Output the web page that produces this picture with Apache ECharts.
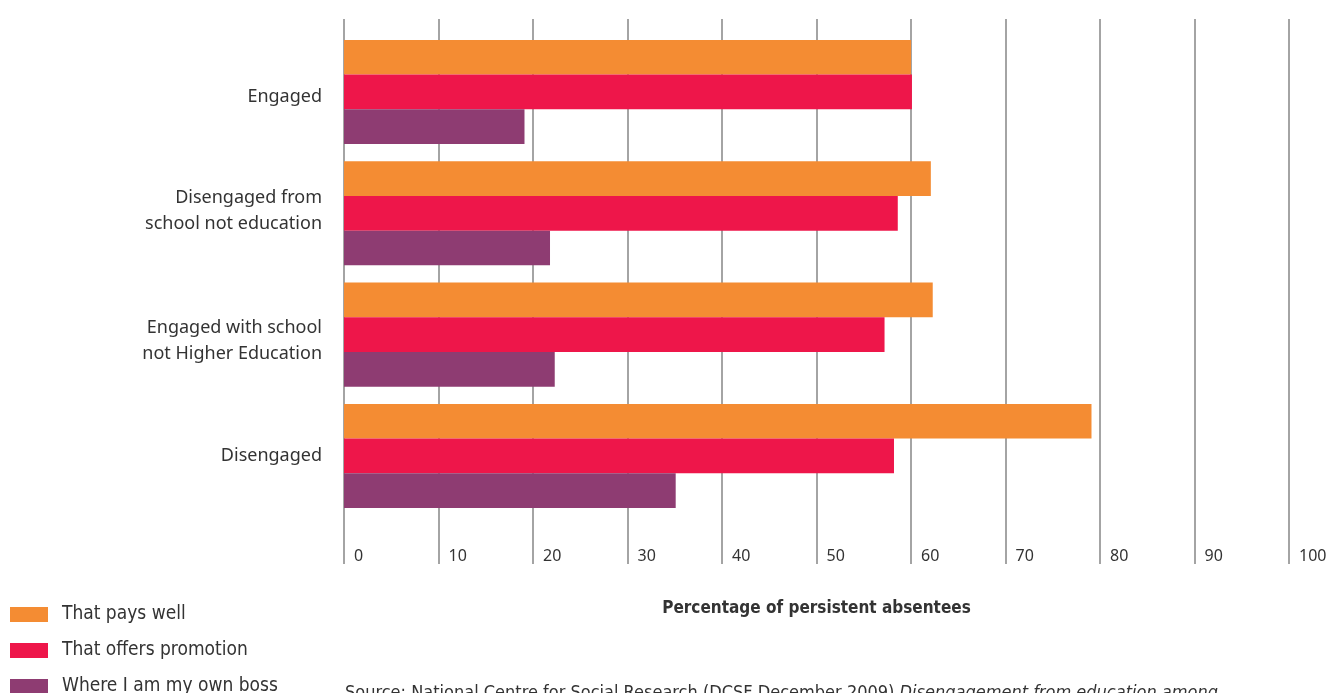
<!DOCTYPE html>
<html>
<head>
<meta charset="utf-8">
<script src="https://cdn.jsdelivr.net/npm/echarts@6/dist/echarts.min.js"></script>
<style>
  html, body { margin: 0; padding: 0; background: #fff; }
  #chart { width: 1331px; height: 693px; }
</style>
</head>
<body>
<div id="chart"></div>
<script>
// categories, top to bottom
const categories = [
  'Engaged',
  'Disengaged from\nschool not education',
  'Engaged with school\nnot Higher Education',
  'Disengaged'
];
const seriesNames = ['That pays well', 'That offers promotion', 'Where I am my own boss'];
const paysWell = [60.0, 62.1, 62.3, 79.1];
const offersPromotion = [60.1, 58.6, 57.2, 58.2];
const ownBoss = [19.1, 21.8, 22.3, 35.1];
const xTicks = [0, 10, 20, 30, 40, 50, 60, 70, 80, 90, 100];

const colors = ['#F48C33', '#EE164A', '#8E3C72'];
const textColor = '#333333';
const baseFont = '"Noto Sans", "DejaVu Sans", sans-serif';
const narrowFont = '"DejaVu Sans Condensed", "Liberation Sans Narrow", "Noto Sans", sans-serif';

const chart = echarts.init(document.getElementById('chart'));

const barSeries = [paysWell, offersPromotion, ownBoss].map((vals, i) => ({
  name: seriesNames[i],
  type: 'bar',
  xAxisIndex: 0,
  yAxisIndex: 0,
  data: vals,
  barWidth: 34.7,
  barGap: '0%',
  itemStyle: { color: colors[i] },
  emphasis: { disabled: true },
  z: 3
}));

// the original's labels are not exactly centred on their bars:
// thin spacer lines above/below nudge them
const lh = 26;
const labelRich = {
  t: { fontSize: 18, lineHeight: lh, color: textColor, fontFamily: baseFont },
  sp10: { fontSize: 1, lineHeight: 10 },
  sp12: { fontSize: 1, lineHeight: 12 },
  sp4: { fontSize: 1, lineHeight: 4 }
};
const spacers = [['sp10', null], [null, 'sp4'], ['sp12', null], [null, null]];
function categoryLabel(value, idx) {
  const lines = value.split('\n').map(l => `{t|${l}}`);
  const [above, below] = spacers[idx] || [null, null];
  if (above) lines.unshift(`{${above}| }`);
  if (below) lines.push(`{${below}| }`);
  return lines.join('\n');
}

const option = {
  animation: false,
  textStyle: { fontFamily: baseFont },
  grid: [
    // bars
    { left: 344, width: 945, top: 31.3, height: 485.3 },
    // taller gridlines + tick labels
    { left: 344, width: 945, top: 19, height: 545 }
  ],
  xAxis: [
    { gridIndex: 0, type: 'value', min: 0, max: 100, interval: 10, show: false },
    {
      gridIndex: 1,
      type: 'value',
      min: 0,
      max: 100,
      interval: 10,
      axisLine: { show: false },
      axisTick: { show: false },
      splitLine: { show: true, lineStyle: { color: '#a4a4a4', width: 2 } },
      axisLabel: {
        inside: true,
        align: 'left',
        padding: [0, 0, 0, 10],
        margin: 0,
        fontSize: 16,
        color: textColor,
        formatter: v => (xTicks.includes(v) ? String(v) : '')
      },
      name: 'Percentage of persistent absentees',
      nameLocation: 'middle',
      nameGap: 36,
      nameTextStyle: {
        fontFamily: narrowFont,
        fontWeight: 'bold',
        fontSize: 17,
        color: textColor
      }
    }
  ],
  yAxis: [
    {
      gridIndex: 0,
      type: 'category',
      data: categories,
      inverse: true,
      axisLine: { show: false },
      axisTick: { show: false },
      splitLine: { show: false },
      axisLabel: {
        margin: 22,
        fontSize: 18,
        color: textColor,
        formatter: categoryLabel,
        rich: labelRich
      }
    },
    { gridIndex: 1, type: 'category', data: categories, show: false }
  ],
  legend: {
    orient: 'vertical',
    left: 10,
    top: 605,
    height: 120,
    padding: 0,
    itemWidth: 38,
    itemHeight: 15,
    itemGap: 17,
    icon: 'rect',
    selectedMode: false,
    data: seriesNames,
    textStyle: {
      fontFamily: narrowFont,
      fontSize: 19,
      lineHeight: 18,
      color: textColor,
      padding: [0, 0, 0, 9]
    }
  },
  title: {
    left: 340,
    top: 679,
    text: '{a|Source: National Centre for Social Research (DCSF December 2009) }{b|Disengagement from education among}',
    textStyle: {
      fontWeight: 'normal',
      rich: {
        a: { fontFamily: narrowFont, fontSize: 18, fontWeight: 'normal', color: textColor },
        b: { fontFamily: narrowFont, fontSize: 18, fontWeight: 'normal', color: textColor, fontStyle: 'italic' }
      }
    }
  },
  series: barSeries
};

chart.setOption(option);
</script>
</body>
</html>
